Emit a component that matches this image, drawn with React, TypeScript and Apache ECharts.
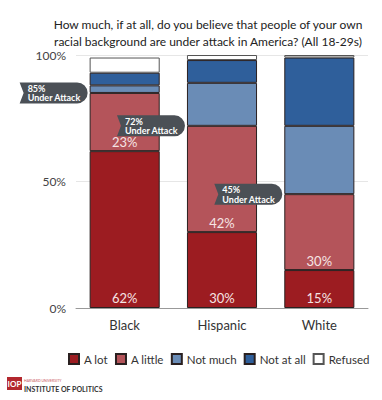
import React, { useEffect, useRef } from "react";
import * as echarts from "echarts";

const categories = ["Black", "Hispanic", "White"];
const aLot = [62, 30, 15];
const aLittle = [23, 42, 30];
const notMuch = [3, 17, 27];
const notAtAll = [5, 9, 27];
const refused = [6, 2, 1];
const underAttack = [85, 72, 45];
const yTicks = [0, 50, 100];

const FONT = "Lato, 'Open Sans', sans-serif";

export default function App() {
  const ref = useRef<HTMLDivElement>(null);
  useEffect(() => {
    if (!ref.current) return;
    const chart = echarts.init(ref.current, null, { renderer: "svg" });
    const labelStyle = (dist: number) => ({
      show: true,
      position: "insideBottom",
      distance: dist,
      color: "#f6e4e4",
      fontSize: 13,
      fontFamily: FONT,
      formatter: "{c}%",
    });
    const mk = (name: string, data: number[], color: string, label?: any, bc?: string) => ({
      name,
      type: "bar",
      stack: "s",
      data,
      barWidth: "72%",
      itemStyle: { color, borderColor: bc || "#2a2020", borderWidth: 1 },
      label: label || { show: false },
      emphasis: { disabled: true },
    });
    chart.setOption({
      animation: false,
      textStyle: { fontFamily: FONT },
      title: {
        text: "How much, if at all, do you believe that people of your own\nracial background are under attack in America? (All 18-29s)",
        left: 203,
        top: 11,
        textAlign: "center",
        textStyle: { color: "#222", fontSize: 12, fontWeight: "normal", lineHeight: 17, fontFamily: FONT },
      },
      grid: { left: 76, right: 14, top: 55, bottom: 92 },
      xAxis: {
        type: "category",
        data: categories,
        axisTick: { show: false },
        axisLine: { lineStyle: { color: "#999" } },
        axisLabel: { color: "#333", fontSize: 13, margin: 10, fontFamily: FONT },
      },
      yAxis: {
        type: "value",
        min: yTicks[0],
        max: yTicks[2],
        interval: 50,
        axisLabel: { formatter: "{value}%", color: "#444", fontSize: 12, margin: 10, fontFamily: FONT },
        splitLine: { lineStyle: { color: "#e6e6e6" } },
        axisLine: { show: false },
        axisTick: { show: false },
      },
      legend: {
        data: ["A lot", "A little", "Not much", "Not at all", "Refused"],
        left: 63,
        top: 348,
        width: 330,
        icon: "rect",
        itemWidth: 10,
        itemHeight: 10,
        itemGap: 7,
        textStyle: { color: "#333", fontSize: 11.5, fontFamily: FONT },
      },
      series: [
        mk("A lot", aLot, "#9c1c21", labelStyle(4)),
        mk("A little", aLittle, "#b4545a", labelStyle(3)),
        mk("Not much", notMuch, "#6a8cb6"),
        mk("Not at all", notAtAll, "#2f5f9b"),
        mk("Refused", refused, "#ffffff", undefined, "#555"),
        {
          type: "custom",
          name: "Under Attack",
          data: underAttack.map((v, i) => [i, v]),
          encode: { x: 0, y: 1 },
          clip: false,
          z: 10,
          renderItem: (params: any, api: any) => {
            const idx = api.value(0);
            const val = api.value(1);
            const pt = api.coord([idx, val]);
            const bw = api.size([1, 0])[0] * 0.72;
            const x1 = pt[0] - bw / 2 - 2;
            const w = 68;
            const h = 21;
            const r = 10.5;
            const x0 = x1 - w;
            const cy = pt[1];
            const y0 = cy - h / 2;
            const d = `M${x0},${y0} L${x1 - r},${y0} A${r},${r} 0 0 1 ${x1 - r},${y0 + h} L${x0},${y0 + h} L${x0 + 4},${cy} Z`;
            return {
              type: "group",
              children: [
                { type: "path", shape: { pathData: d }, style: { fill: "#4b5056" } },
                {
                  type: "text",
                  style: {
                    x: x0 + 8,
                    y: cy - 4.5,
                    text: val + "%",
                    fill: "#fff",
                    font: `bold 9px ${FONT}`,
                    verticalAlign: "middle",
                    align: "left",
                  },
                },
                {
                  type: "text",
                  style: {
                    x: x0 + 8,
                    y: cy + 5,
                    text: "Under Attack",
                    fill: "#fff",
                    font: `bold 9px ${FONT}`,
                    verticalAlign: "middle",
                    align: "left",
                  },
                },
              ],
            };
          },
        },
      ],
      graphic: [
        { type: "rect", shape: { x: 7, y: 377, width: 15, height: 13 }, style: { fill: "#b3282e" } },
        { type: "text", x: 14.5, y: 383.5, style: { text: "IOP", fill: "#fff", font: `bold 8px ${FONT}`, align: "center", verticalAlign: "middle" } },
        { type: "text", x: 24, y: 379, style: { text: "HARVARD UNIVERSITY", fill: "#c9555a", font: `3.5px ${FONT}` } },
        { type: "text", x: 24, y: 385, style: { text: "INSTITUTE OF POLITICS", fill: "#333", font: `bold 7px ${FONT}` } },
      ],
    });
    return () => chart.dispose();
  }, []);
  return <div ref={ref} style={{ position: "absolute", left: 0, top: 0, width: 382, height: 400 }} />;
}
